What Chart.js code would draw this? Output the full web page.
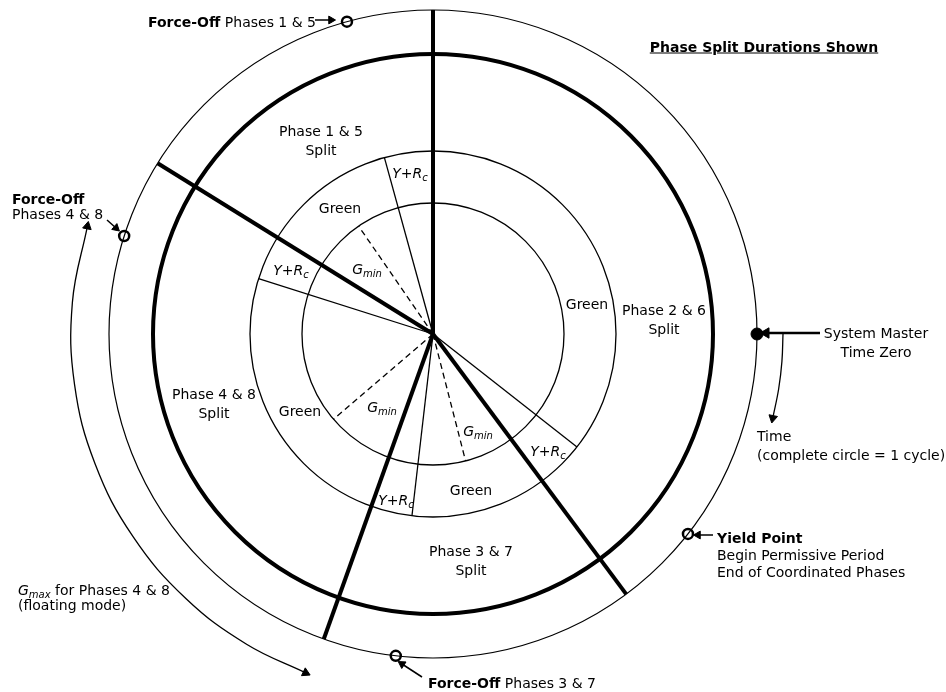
<!DOCTYPE html>
<html>
<head>
<meta charset="utf-8">
<script src="https://cdn.jsdelivr.net/npm/chart.js@4/dist/chart.umd.min.js"></script>
<style>
  html, body { margin:0; padding:0; background:#fff; }
  #wrap { position:relative; width:946px; height:692px; overflow:hidden; }
  canvas { position:absolute; left:0; top:0; }
  .lbl { position:absolute; font-family:"DejaVu Sans", Verdana, sans-serif; font-size:14px; color:#000; white-space:nowrap; line-height:19px; }
  .c { transform:translate(-50%,-50%); text-align:center; }
  .l { transform:translate(0,-50%); text-align:left; }
  .m { font-style:italic; }
  sub { font-size:10px; vertical-align:-3px; line-height:0; }
</style>
</head>
<body>
<div id="wrap">
<canvas id="c" width="946" height="692"></canvas>

<div class="lbl l" style="left:148px;top:22px;"><b>Force-Off</b> Phases 1 &amp; 5</div>
<div class="lbl c" style="left:764px;top:47px;"><b><u>Phase Split Durations Shown</u></b></div>
<div class="lbl l" style="left:12px;top:207px;line-height:15px;"><b>Force-Off</b><br>Phases 4 &amp; 8</div>

<div class="lbl c" style="left:321px;top:141px;">Phase 1 &amp; 5<br>Split</div>
<div class="lbl c" style="left:664px;top:320px;">Phase 2 &amp; 6<br>Split</div>
<div class="lbl c" style="left:214px;top:404px;">Phase 4 &amp; 8<br>Split</div>
<div class="lbl c" style="left:471px;top:561px;">Phase 3 &amp; 7<br>Split</div>

<div class="lbl c" style="left:340px;top:208px;">Green</div>
<div class="lbl c" style="left:587px;top:304px;">Green</div>
<div class="lbl c" style="left:300px;top:411px;">Green</div>
<div class="lbl c" style="left:471px;top:490px;">Green</div>

<div class="lbl c m" style="left:367px;top:269px;">G<sub>min</sub></div>
<div class="lbl c m" style="left:382px;top:407px;">G<sub>min</sub></div>
<div class="lbl c m" style="left:478px;top:431px;">G<sub>min</sub></div>

<div class="lbl c" style="left:410px;top:173px;"><i>Y</i>+<i>R<sub>c</sub></i></div>
<div class="lbl c" style="left:291px;top:270px;"><i>Y</i>+<i>R<sub>c</sub></i></div>
<div class="lbl c" style="left:548px;top:451px;"><i>Y</i>+<i>R<sub>c</sub></i></div>
<div class="lbl c" style="left:396px;top:500px;"><i>Y</i>+<i>R<sub>c</sub></i></div>

<div class="lbl c" style="left:876px;top:343px;">System Master<br>Time Zero</div>
<div class="lbl l" style="left:757px;top:446px;">Time<br>(complete circle = 1 cycle)</div>
<div class="lbl l" style="left:717px;top:555px;line-height:17px;"><b>Yield Point</b><br>Begin Permissive Period<br>End of Coordinated Phases</div>
<div class="lbl l" style="left:18px;top:598px;line-height:15px;"><i>G<sub>max</sub></i> for Phases 4 &amp; 8<br>(floating mode)</div>
<div class="lbl l" style="left:428px;top:683px;"><b>Force-Off</b> Phases 3 &amp; 7</div>
</div>

<script>
// ---------------- data (angles in degrees, clockwise from 12 o'clock) ----------------
const phaseNames      = ['Phase 2 & 6', 'Phase 3 & 7', 'Phase 4 & 8', 'Phase 1 & 5'];
const phaseEndAngles  = [143.4, 199.7, 301.8, 360.0];   // split boundaries (barrier lines)
const forceOffAngles  = [128.1, 186.6, 287.6, 344.6];   // start of Y+Rc in each split (force-off / yield)
const gminEndAngles   = [null, 165.6, 229.4, 325.4];    // end of minimum green (phase 2&6 coordinated: none)
const systemZeroAngle = 90.0;                           // system master time zero
const gmaxArcAngles   = [287.3, 275, 262, 249, 236, 223, 211, 200.6];  // G max 4&8 arrow path
const timeArcAngles   = [90.0, 94.5, 99.0, 103.9];      // time direction arrow path

// ---------------- geometry / style constants ----------------
const R_OUTER = 324, R_SPLIT = 280, R_MID = 183, R_INNER = 131, R_GMAX = 362, R_TIME = 350;

function pol(r, a) { const t = a * Math.PI / 180; return { x: r * Math.sin(t), y: r * Math.cos(t) }; }
function px(x, y) { return { x: x - 433, y: 334 - y }; }   // screen helper for annotation arrows

const black = '#000';
const datasets = [];

function seg(points, width, dash) {
  datasets.push({ type: 'line', data: points, borderColor: black, borderWidth: width,
    borderDash: dash || [], pointRadius: 0, fill: false, tension: 0, clip: false, borderCapStyle: 'butt' });
}
function circle(r, width) {
  datasets.push({ type: 'scatter', data: [{ x: 0, y: 0 }], pointRadius: r, pointHoverRadius: r,
    pointBorderWidth: width, pointBorderColor: black, pointBackgroundColor: 'rgba(0,0,0,0)', clip: false });
}
function arrow(points, width, headSize, tension) {
  const n = points.length;
  const a = points[n - 2], b = points[n - 1];
  const rot = Math.atan2(b.x - a.x, b.y - a.y) * 180 / Math.PI;
  datasets.push({ type: 'line', data: points, borderColor: black, borderWidth: width, fill: false,
    tension: tension || 0, clip: false,
    pointStyle: 'triangle', pointRadius: ctx => ctx.dataIndex === n - 1 ? headSize : 0,
    pointRotation: rot, pointBackgroundColor: black, pointBorderColor: black, pointBorderWidth: 1 });
}
function arrowStart(points, headSize) {
  const a = points[1], b = points[0];
  const rot = Math.atan2(b.x - a.x, b.y - a.y) * 180 / Math.PI;
  datasets.push({ type: 'scatter', data: [points[0]], pointStyle: 'triangle', pointRadius: headSize,
    pointRotation: rot, pointBackgroundColor: black, pointBorderColor: black, pointBorderWidth: 1, clip: false });
}

// circles
circle(R_OUTER, 1.2);
circle(R_SPLIT, 4);
circle(R_MID, 1.3);
circle(R_INNER, 1.3);

// split barrier lines (thick)
phaseEndAngles.forEach(a => seg([{ x: 0, y: 0 }, pol(R_OUTER, a)], 4));
// Y + Rc boundaries (thin)
forceOffAngles.forEach(a => seg([{ x: 0, y: 0 }, pol(R_MID, a)], 1.3));
// G min (dashed)
gminEndAngles.forEach(a => { if (a !== null) seg([{ x: 0, y: 0 }, pol(R_INNER, a)], 1.3, [6, 4]); });

// force-off / yield markers on outer circle
datasets.push({ type: 'scatter', data: forceOffAngles.map(a => pol(R_OUTER, a)), pointRadius: 5,
  pointBorderWidth: 2.5, pointBorderColor: black, pointBackgroundColor: 'rgba(0,0,0,0)', clip: false });
// system master time zero
datasets.push({ type: 'scatter', data: [pol(R_OUTER, systemZeroAngle)], pointRadius: 6,
  pointBorderWidth: 1, pointBorderColor: black, pointBackgroundColor: black, clip: false });

// G max arc (double headed)
const gmaxPts = gmaxArcAngles.map(a => pol(R_GMAX, a));
arrow(gmaxPts, 1.3, 5, 0.4);
arrowStart(gmaxPts, 5);
// time arc
arrow(timeArcAngles.map(a => pol(R_TIME, a)), 1.3, 5, 0.4);

// straight pointer arrows
arrow([px(820, 333), px(766, 333)], 2.5, 6);     // system master
arrow([px(315, 20), px(331, 20)], 1.5, 4.5);     // force-off 1&5
arrow([px(107, 220), px(116, 228)], 1.5, 4.5);   // force-off 4&8
arrow([px(422, 677), px(402, 664)], 1.5, 4.5);   // force-off 3&7
arrow([px(713, 535), px(698, 535)], 1.5, 4.5);   // yield point

new Chart(document.getElementById('c'), {
  type: 'scatter',
  data: { datasets },
  options: {
    responsive: false, animation: false, devicePixelRatio: 1,
    layout: { padding: 0, autoPadding: false },
    plugins: { legend: { display: false }, tooltip: { enabled: false }, title: { display: false } },
    scales: {
      x: { type: 'linear', min: -433, max: 513, display: false },
      y: { type: 'linear', min: -358, max: 334, display: false }
    },
    events: []
  }
});
</script>
</body>
</html>
